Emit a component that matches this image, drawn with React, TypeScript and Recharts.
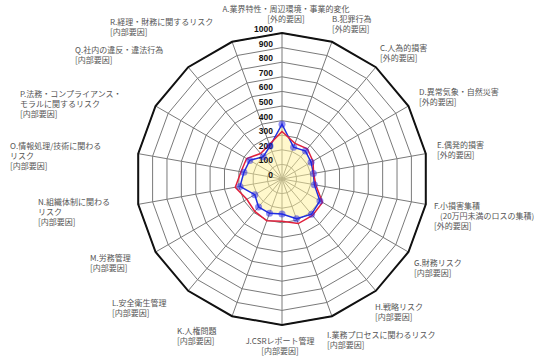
import { RadarChart, Radar, PolarGrid, PolarAngleAxis, PolarRadiusAxis } from "recharts";

// category codes, clockwise from the top
const CATEGORIES = ["A", "B", "C", "D", "E", "F", "G", "H", "I", "J", "K", "L", "M", "N", "O", "P", "Q", "R"];

const CATEGORY_LABELS = [
  ["A.業界特性・周辺環境・事業的変化", "[外的要因]"],
  ["B.犯罪行為", "[外的要因]"],
  ["C.人為的損害", "[外的要因]"],
  ["D.異常気象・自然災害", "[外的要因]"],
  ["E.偶発的損害", "[外的要因]"],
  ["F.小損害集積", "(20万円未満のロスの集積)", "[外的要因]"],
  ["G.財務リスク", "[内部要因]"],
  ["H.戦略リスク", "[内部要因]"],
  ["I.業務プロセスに関わるリスク", "[内部要因]"],
  ["J.CSRレポート管理", "[内部要因]"],
  ["K.人権問題", "[内部要因]"],
  ["L.安全衛生管理", "[内部要因]"],
  ["M.労務管理", "[内部要因]"],
  ["N.組織体制に関わる", "リスク", "[内部要因]"],
  ["O.情報処理/技術に関わる", "リスク", "[内部要因]"],
  ["P.法務・コンプライアンス・", "モラルに関するリスク", "[内部要因]"],
  ["Q.社内の違反・違法行為", "[内部要因]"],
  ["R.経理・財務に関するリスク", "[内部要因]"],
];

const RED_VALUES = [325, 260, 270, 245, 220, 235, 320, 325, 325, 290, 305, 290, 278, 325, 285, 280, 228, 252];
const BLUE_VALUES = [375, 232, 250, 230, 218, 225, 300, 315, 290, 240, 250, 250, 215, 292, 265, 255, 200, 240];

const RADIUS_TICKS = [0, 100, 200, 300, 400, 500, 600, 700, 800, 900, 1000];

const CX = 282;
const CY = 179;
const OUTER = 146;

// where each outer label block sits: [x, first line y, anchor, indent of 2nd line]
const LABEL_POS: [number, number, string, number][] = [
  [CX + 4, 9, "middle", 0],
  [332, 19, "start", 0],
  [380, 48, "start", 0],
  [419, 92, "start", 0],
  [437, 145, "start", 0],
  [434, 206, "start", 6],
  [414, 263, "start", 0],
  [375, 307, "start", 0],
  [327, 335, "start", 0],
  [280, 341, "middle", 0],
  [177, 331, "start", 0],
  [112, 303, "start", 0],
  [90, 258, "start", 0],
  [38, 202, "start", 0],
  [10, 146, "start", 0],
  [20, 94, "start", 0],
  [75, 50, "start", 0],
  [110, 22, "start", 0],
];

const data = CATEGORIES.map((c, i) => ({
  code: c,
  red: RED_VALUES[i],
  blue: BLUE_VALUES[i],
}));

function CategoryTick(props: any) {
  const i = CATEGORIES.indexOf(props.payload.value);
  if (i < 0) return null;
  const [x, y, anchor, indent] = LABEL_POS[i];
  return (
    <g>
      {CATEGORY_LABELS[i].map((line, k) => (
        <text
          key={k}
          x={x + (k === 1 ? indent : 0)}
          y={y + k * 10}
          dy={3}
          textAnchor={anchor as any}
          fontSize={8}
          fill="#555"
          fontFamily="'Noto Sans CJK JP', sans-serif"
        >
          {line}
        </text>
      ))}
    </g>
  );
}

function RadiusTick(props: any) {
  const { x, y, payload } = props;
  return (
    <text
      x={x - 9}
      y={y - 4}
      dy={3}
      textAnchor="end"
      fontSize={8.5}
      fontWeight="bold"
      fill="#111"
      fontFamily="'Liberation Sans', Arial, sans-serif"
    >
      {payload.value}
    </text>
  );
}

export default function App() {
  return (
    <div style={{ position: "absolute", left: 0, top: 0, width: 534, height: 360, background: "#fff" }}>
      <RadarChart width={534} height={360} data={data} cx={CX} cy={CY} outerRadius={OUTER} margin={{ top: 0, right: 0, bottom: 0, left: 0 }}>
        <PolarGrid gridType="polygon" stroke="#7a7a7a" strokeWidth={1} />
        <PolarAngleAxis
          dataKey="code"
          tick={<CategoryTick />}
          tickLine={false}
          axisLineType="polygon"
          axisLine={{ stroke: "#111", strokeWidth: 2 }}
        />
        <Radar
          name="前回"
          dataKey="blue"
          stroke="#2030e0"
          strokeWidth={1.5}
          fill="#fff29a"
          fillOpacity={0.5}
          dot={{ r: 3.5, fill: "#2020e8", stroke: "none" }}
          isAnimationActive={false}
        />
        <Radar
          name="今回"
          dataKey="red"
          stroke="#e0203c"
          strokeWidth={1.5}
          fill="none"
          fillOpacity={0}
          dot={{ r: 3.5, fill: "#e8283c", stroke: "none" }}
          isAnimationActive={false}
        />
        <PolarRadiusAxis
          angle={90}
          domain={[0, 1000]}
          ticks={RADIUS_TICKS as any}
          tickCount={11}
          axisLine={false}
          tickLine={false}
          tick={<RadiusTick />}
        />
      </RadarChart>
    </div>
  );
}
